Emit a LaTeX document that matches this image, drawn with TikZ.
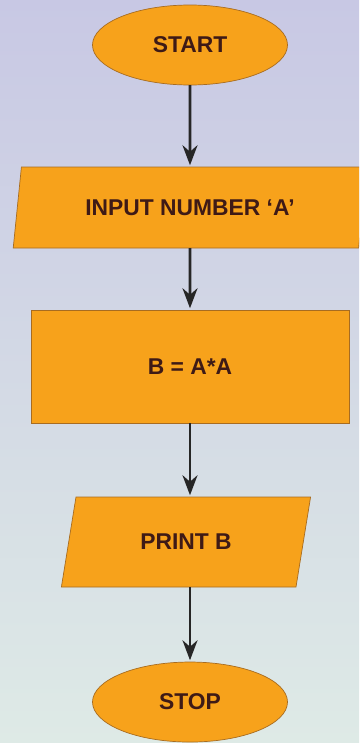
\documentclass[tikz,border=0pt]{standalone}
\usepackage{fontspec}
\setmainfont{Liberation Sans}
\usetikzlibrary{arrows.meta,positioning,shapes.geometric}
\definecolor{boxfill}{RGB}{247,162,27}
\definecolor{boxline}{RGB}{168,108,32}
\definecolor{inktext}{RGB}{62,26,22}
\definecolor{bgtop}{RGB}{200,200,228}
\definecolor{bgbottom}{RGB}{222,234,230}

\begin{document}
\begin{tikzpicture}[>={Stealth[length=4mm,width=3mm]},
  font=\fontsize{13}{15}\selectfont\bfseries,
  terminal/.style={ellipse,draw=boxline,fill=boxfill,text=inktext,outer sep=0pt,
    minimum width=39mm,minimum height=16mm},
  io/.style={trapezium,trapezium stretches=true,draw=boxline,fill=boxfill,
    text=inktext,outer sep=0pt},
  process/.style={rectangle,draw=boxline,fill=boxfill,text=inktext,outer sep=0pt,
    minimum width=63.6mm,minimum height=22.6mm},
  flow/.style={->,line width=1.6pt,black!85,shorten >=1pt}]
\useasboundingbox (0,0) rectangle (7.18,-14.86);
% background
\shade[top color=bgtop,bottom color=bgbottom] (0,0) rectangle (7.18,-14.86);
\clip (0,0) rectangle (7.18,-14.86);
% boxes
\node[terminal] (start) at (3.8,-0.9) {START};
\node[io,below=16.4mm of start,trapezium left angle=79,trapezium right angle=101,
  minimum width=70.8mm,minimum height=16.2mm] (input) {INPUT NUMBER ‘A’};
\node[process,below=12.4mm of input] (calc) {B = A*A};
\node[io,below=14.8mm of calc,xshift=-0.8mm,trapezium left angle=76,trapezium right angle=104,
  minimum width=50mm,minimum height=18mm] (print) {PRINT B};
\node[terminal,below=15mm of print,xshift=0.8mm] (stop) {STOP};
% arrows
\draw[flow] (start) -- (input);
\draw[flow] (input) -- (calc);
\draw[flow] (calc.south) -- (calc.south |- print.north);
\draw[flow] (stop.north |- print.south) -- (stop);
\end{tikzpicture}
\end{document}
